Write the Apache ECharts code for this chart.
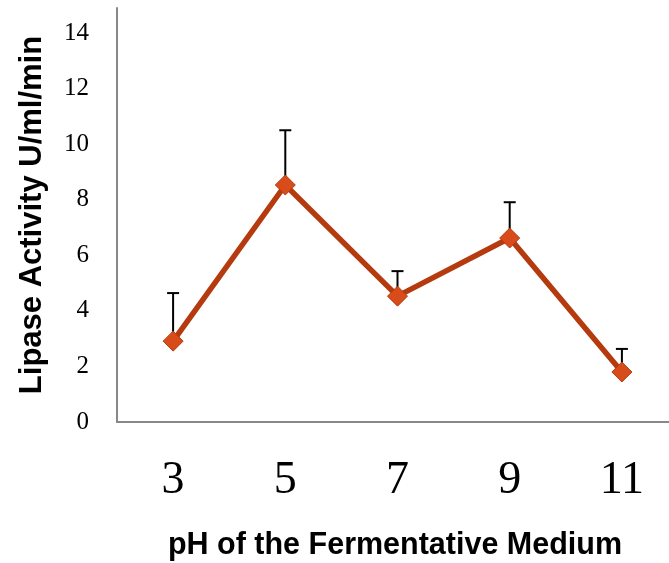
<!DOCTYPE html>
<html><head><meta charset="utf-8">
<script src="https://cdn.jsdelivr.net/npm/echarts@6/dist/echarts.min.js"></script>
<style>html,body{margin:0;padding:0;background:#fff}#c{width:669px;height:563px}</style>
</head><body><div id="c"></div>
<script>
const categories = ['3', '5', '7', '9', '11'];
const activity = [2.91, 8.53, 4.53, 6.62, 1.80];
const errorUp = [1.73, 1.97, 0.90, 1.29, 0.83];
const yTicks = [0, 2, 4, 6, 8, 10, 12, 14];

const chart = echarts.init(document.getElementById('c'));
chart.setOption({
  animation: false,
  grid: { left: 117, width: 561, top: 8, height: 414, containLabel: false, outerBoundsMode: 'none' },
  xAxis: {
    type: 'category', data: categories, boundaryGap: true,
    axisLine: { lineStyle: { color: '#888', width: 2 } },
    axisTick: { show: false },
    axisLabel: { fontFamily: 'Liberation Serif', fontSize: 46, color: '#000', margin: 36 }
  },
  yAxis: {
    type: 'value', min: 0, max: 14.9, interval: 2,
    axisLine: { show: true, lineStyle: { color: '#888', width: 2 } },
    axisTick: { show: false }, splitLine: { show: false },
    axisLabel: {
      fontFamily: 'Liberation Serif', fontSize: 25, color: '#000', margin: 28,
      showMaxLabel: false,
      formatter: v => yTicks.includes(v) ? String(v) : ''
    }
  },
  graphic: [
    { type: 'text', x: 32, y: 215, rotation: Math.PI / 2,
      style: { text: 'Lipase Activity U/ml/min', fontFamily: 'Liberation Sans', fontWeight: 'bold',
        fontSize: 31, fill: '#000', align: 'center', verticalAlign: 'middle' } },
    { type: 'text', x: 395, y: 546,
      style: { text: 'pH of the Fermentative Medium', fontFamily: 'Liberation Sans', fontWeight: 'bold',
        fontSize: 30.5, fill: '#000', align: 'center', verticalAlign: 'middle' } }
  ],
  series: [
    {
      type: 'custom', z: 1,
      data: activity.map((v, i) => [i, v, v + errorUp[i]]),
      renderItem: (params, api) => {
        const p0 = api.coord([api.value(0), api.value(1)]);
        const p1 = api.coord([api.value(0), api.value(2)]);
        return { type: 'group', children: [
          { type: 'line', shape: { x1: p0[0], y1: p0[1], x2: p1[0], y2: p1[1] }, style: { stroke: '#000', lineWidth: 2 } },
          { type: 'line', shape: { x1: p1[0] - 6, y1: p1[1], x2: p1[0] + 6, y2: p1[1] }, style: { stroke: '#000', lineWidth: 2 } }
        ]};
      }
    },
    {
      type: 'line', z: 3, data: activity,
      lineStyle: { color: '#B53A0E', width: 5.5 },
      symbol: 'diamond', symbolSize: 20,
      itemStyle: { color: '#D84C1C', borderColor: '#B53A0E', borderWidth: 1 }
    }
  ]
});
</script></body></html>
